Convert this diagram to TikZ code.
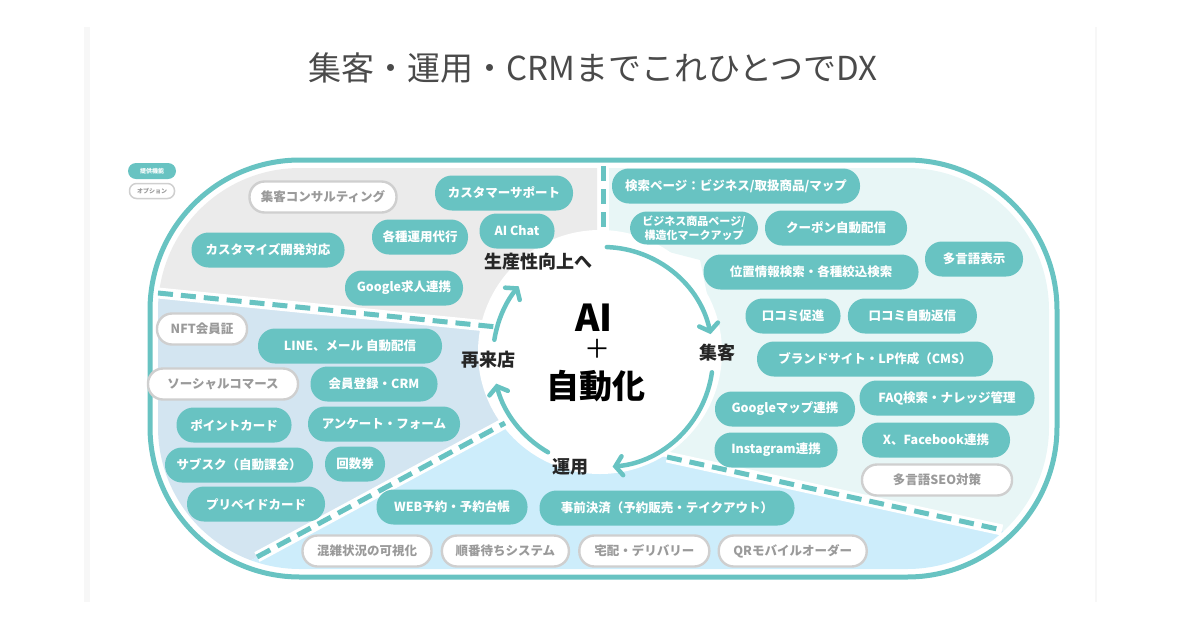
\documentclass[tikz,border=0pt]{standalone}
\usepackage{fontspec}
\setmainfont{Noto Sans CJK JP}
\usepackage{tikz}
\usetikzlibrary{positioning,arrows.meta}
\definecolor{tealmain}{HTML}{68C3C2}
\definecolor{graybg}{HTML}{EBEBEB}
\definecolor{leftbg}{HTML}{D3E5F1}
\definecolor{bottombg}{HTML}{CDEDFB}
\definecolor{rightbg}{HTML}{E8F6F6}
\definecolor{optline}{HTML}{CFCFCF}
\definecolor{opttext}{HTML}{9A9A9A}
\definecolor{titletext}{HTML}{4A4A4A}
\tikzset{
    feat/.style={fill=tealmain, text=white, minimum width=#1, minimum height=35pt,
        rounded corners=17pt, inner sep=2pt,
        font=\bfseries\fontsize{12.5}{14}\selectfont}, % provided features
    opt/.style={draw=optline, line width=2.4pt, fill=white, text=opttext,
        minimum width=#1, minimum height=31pt, rounded corners=15pt, inner sep=2pt,
        font=\bfseries\fontsize{12.5}{14}\selectfont}, % options
    lbl/.style={text=black!85, font=\bfseries\fontsize{18}{18}\selectfont},
    cyc/.style={draw=tealmain, line width=4.5pt, line cap=round,
        -{Straight Barb[length=7pt,width=19pt,line cap=round]}},
    divider/.style={draw=tealmain, line width=5pt, dash pattern=on 15pt off 8pt},
}

\begin{document}
\begin{tikzpicture}[x=1pt,y=-1pt]
    \useasboundingbox (0,0) rectangle (1200,630);
    % card edges
    \draw[black!3, line width=6pt] (87,27) -- (87,602);
    \draw[black!3, line width=2pt] (1096,27) -- (1096,602);

    \node[font=\fontsize{33}{33}\selectfont, text=titletext] (title) at (593,68)
        {集客・運用・CRMまでこれひとつでDX};

    % areas
    \begin{scope}
        \clip[rounded corners=142pt] (158,168) rectangle (1049,569);
        \fill[graybg] (140,150) -- (597,150) -- (597,262) -- (520,285) -- (497,327)
            -- (140,292) -- cycle;
        \fill[leftbg] (140,292) -- (497,327) -- (505,423) -- (220,577) -- (140,577) -- cycle;
        \fill[bottombg] (220,577) -- (505,423) -- (560,445) -- (667,457) -- (1010,532)
            -- (1070,545) -- (1070,640) -- (200,640) -- cycle;
        \fill[rightbg] (603,150) -- (1070,150) -- (1070,545) -- (1010,532) -- (667,457)
            -- (720,357) -- (700,260) -- (603,235) -- cycle;
    \end{scope}
    \draw[tealmain, line width=5pt, rounded corners=150pt] (150,160) rectangle (1057,577);

    \coordinate (hub) at (603,357);
    \fill[white] (600,352) circle[radius=122];

    % dividers
    \foreach \a/\b in {{(158,293)}/{(497,327)}, {(603,166)}/{(603,232)},
                       {(257,557)}/{(505,423)}, {(667,457)}/{(1002,530)}} {
        \draw[white, line width=11pt] \a -- \b;
        \draw[divider] \a -- \b;
    }

    % cycle
    \draw[cyc] ([shift={(hub)}]-88:110) arc[start angle=-88, end angle=-12, radius=110];
    \draw[cyc] ([shift={(hub)}]8:110) arc[start angle=8, end angle=85, radius=110];
    \draw[cyc] ([shift={(hub)}]120:110) arc[start angle=120, end angle=166, radius=110];
    \draw[cyc] ([shift={(hub)}]189:110) arc[start angle=189, end angle=220, radius=110];

    \node[font=\bfseries\fontsize{37}{37}\selectfont] (ai) at (594,318) {AI};
    \node[font=\fontsize{26}{26}\selectfont] (plus) at (597,349) {＋};
    \node[font=\bfseries\fontsize{33}{33}\selectfont] (auto) at (596,386) {自動化};

    \node[lbl] (productivity) at (538,262) {生産性向上へ};
    \node[lbl] (attract) at (717,353) {集客};
    \node[lbl] (operate) at (570,467) {運用};
    \node[lbl] (revisit) at (488,360) {再来店};

    % legend
    \node[feat=48pt, minimum height=16pt, rounded corners=8pt,
        font=\bfseries\fontsize{6}{6}\selectfont] (key_feat) at (152,171) {提供機能};
    \node[opt=45pt, minimum height=15pt, rounded corners=7pt, line width=1.5pt,
        font=\bfseries\fontsize{6}{6}\selectfont] (key_opt) at (152,191) {オプション};

    % productivity
    \node[opt=147pt] (consult) at (323,197) {集客コンサルティング};
    \node[feat=138pt] (support) at (504,193) {カスタマーサポート};
    \node[feat=96pt] (operation) at (420,237) {各種運用代行};
    \node[feat=75pt] (ai_chat) at (517,231) {AI Chat};
    \node[feat=153pt] (custom_dev) at (268,250) {カスタマイズ開発対応};
    \node[feat=118pt] (google_job) at (404,288) {Google求人連携};

    % attract
    \node[feat=248pt] (search) at (736,186) {検索ページ：ビジネス/取扱商品/マップ};
    \node[feat=128pt, minimum height=33pt, align=center,
        font=\bfseries\fontsize{11}{14}\selectfont] (markup) at (694,228)
        {ビジネス商品ページ/\\構造化マークアップ};
    \node[feat=142pt] (coupon) at (836,228) {クーポン自動配信};
    \node[feat=98pt] (multilang) at (974,259) {多言語表示};
    \node[feat=215pt] (location) at (811,272) {位置情報検索・各種絞込検索};
    \node[feat=95pt] (review) at (793,316) {口コミ促進};
    \node[feat=129pt, right=7pt of review] (review_reply) {口コミ自動返信};
    \node[feat=236pt] (brand) at (875,359) {ブランドサイト・LP作成（CMS）};
    \node[feat=140pt] (gmap) at (785,409) {Googleマップ連携};
    \node[feat=175pt] (faq) at (947,398) {FAQ検索・ナレッジ管理};
    \node[feat=123pt] (insta) at (776,450) {Instagram連携};
    \node[feat=148pt] (x_fb) at (936,440) {X、Facebook連携};
    \node[opt=150pt] (seo) at (937,480) {多言語SEO対策};

    % revisit
    \node[opt=90pt] (nft) at (202,329) {NFT会員証};
    \node[feat=184pt] (line_mail) at (350,346) {LINE、メール 自動配信};
    \node[opt=150pt] (social) at (223,384) {ソーシャルコマース};
    \node[feat=127pt] (member) at (374,384) {会員登録・CRM};
    \node[feat=115pt] (point) at (234,425) {ポイントカード};
    \node[feat=152pt] (survey) at (384,424) {アンケート・フォーム};
    \node[feat=148pt] (subscr) at (239,465) {サブスク（自動課金）};
    \node[feat=60pt] (ticket) at (355,464) {回数券};
    \node[feat=138pt] (prepaid) at (256,504) {プリペイドカード};

    % operate
    \node[feat=151pt] (web_res) at (452,507) {WEB予約・予約台帳};
    \node[feat=255pt] (prepay) at (667,508) {事前決済（予約販売・テイクアウト）};
    \node[opt=129pt] (crowd) at (367,551) {混雑状況の可視化};
    \node[opt=127pt, right=8pt of crowd] (queue) {順番待ちシステム};
    \node[opt=130pt, right=8pt of queue] (delivery) {宅配・デリバリー};
    \node[opt=148pt, right=7pt of delivery] (qr_order) {QRモバイルオーダー};
\end{tikzpicture}
\end{document}
